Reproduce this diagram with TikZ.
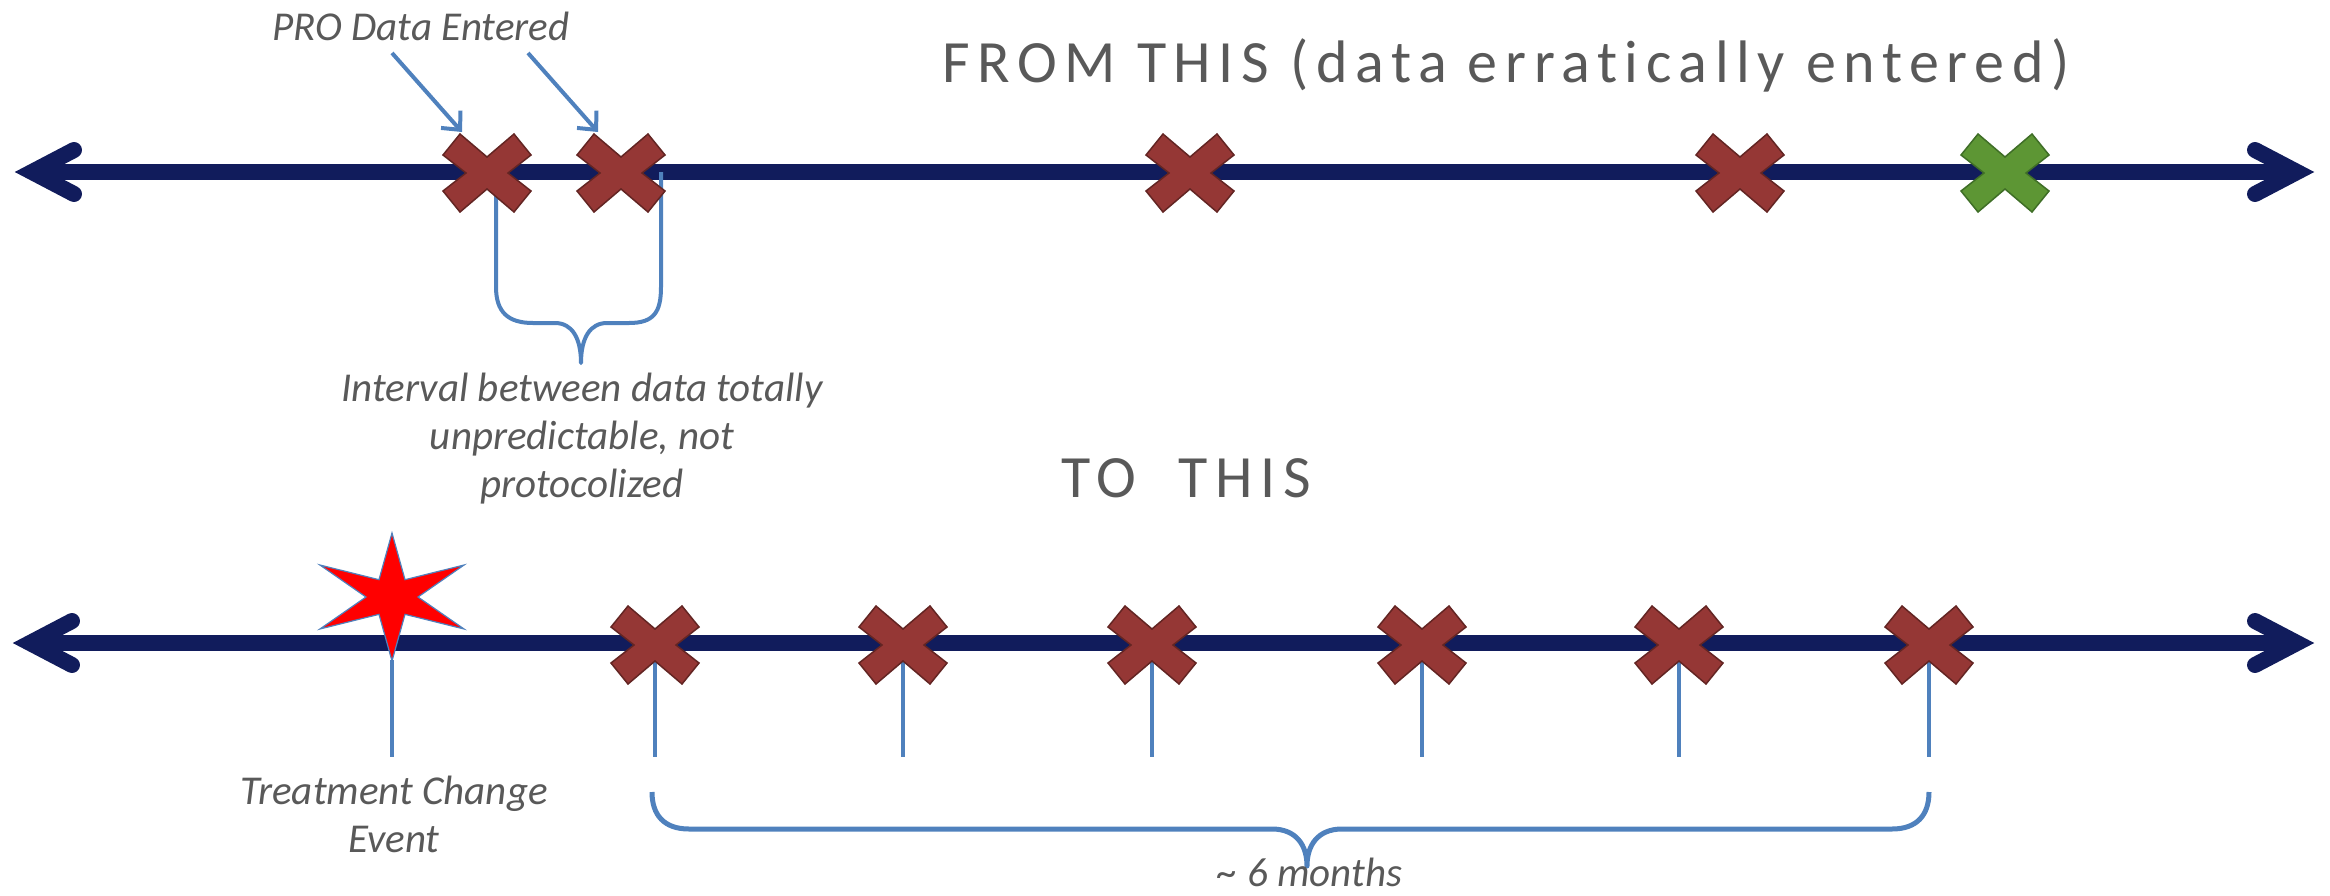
\documentclass[tikz,border=0pt]{standalone}
\usepackage{fontspec}
\setmainfont{Carlito}
\newfontfamily\titlefont[LetterSpace=12.7,Ligatures=NoCommon]{Carlito}
\usetikzlibrary{arrows.meta,calc}
\definecolor{navy}{HTML}{111C5C}
\definecolor{crossred}{HTML}{953735}
\definecolor{crossredd}{HTML}{632523}
\definecolor{crossgreen}{HTML}{5D9634}
\definecolor{crossgreend}{HTML}{3F6E27}
\definecolor{linkblue}{HTML}{4F81BD}
\definecolor{textgray}{HTML}{595959}
\tikzset{
  xcross/.pic={\path[pic actions] (-27,-39) -- (0,-16) -- (27,-39) -- (44,-18) -- (21,0) -- (44,18) -- (27,39) -- (0,16) -- (-27,39) -- (-44,18) -- (-21,0) -- (-44,-18) -- cycle;},
  redx/.style={fill=crossred, draw=crossredd, line width=1.5pt, line join=miter},
  greenx/.style={fill=crossgreen, draw=crossgreend, line width=1.5pt, line join=miter},
  axisline/.style={draw=navy, line width=16pt},
  axishead/.style={draw=navy, line width=16pt, line cap=round, line join=miter},
  bluel/.style={draw=linkblue, line width=4pt},
  bluearrow/.style={draw=linkblue, line width=4pt, -{Straight Barb[length=14pt,width=26pt,line width=4pt]}},
  label/.style={text=textgray, font=\fontsize{41}{48}\selectfont\itshape, inner sep=0pt, align=center},
  title/.style={text=textgray, font=\fontsize{60}{72}\selectfont\titlefont, inner sep=0pt},
}
\begin{document}
\begin{tikzpicture}[x=1pt,y=-1pt]
\useasboundingbox (0,0) rectangle (2330,895);

% ---------- top time line ----------
\coordinate (Lt) at (14,172);
\coordinate (Rt) at (2315,172);
\draw[axisline] ($(Lt)+(18,0)$) -- ($(Rt)+(-18,0)$);
\draw[axishead] ($(Lt)+(60,-22)$) -- ($(Lt)+(18,0)$) -- ($(Lt)+(60,22)$);
\draw[axishead] ($(Rt)+(-60,-22)$) -- ($(Rt)+(-18,0)$) -- ($(Rt)+(-60,22)$);

\coordinate (t1) at (487,173);
\coordinate (t2) at (621,173);
\coordinate (t3) at (1190,173);
\coordinate (t4) at (1740,173);
\coordinate (t5) at (2005,173);

% brace under first two crosses
\coordinate (bl) at (496,172);
\coordinate (br) at (661,172);
\coordinate (btip) at (581,363);
\draw[bluel, line join=round] (bl) -- (496,287) .. controls (496,312) and (508,323) .. (533,323) -- (555,323)
  .. controls (572,323) and (581,338) .. (btip)
  .. controls (581,338) and (590,323) .. (607,323) -- (629,323)
  .. controls (654,323) and (661,312) .. (661,287) -- (br);

\pic[redx] at (t1) {xcross};
\pic[redx] at (t2) {xcross};
\pic[redx] at (t3) {xcross};
\pic[redx] at (t4) {xcross};
\pic[greenx] at (t5) {xcross};

% labels top
\node[label, anchor=base] (pro) at (421,40) {PRO Data Entered};
\coordinate (a1s) at (392,53);
\coordinate (a1e) at (462,132);
\coordinate (a2s) at (528,53);
\coordinate (a2e) at (598,132);
\draw[bluearrow] (a1s) -- (a1e);
\draw[bluearrow] (a2s) -- (a2e);

\node[title, anchor=base] (from) at (1506,82) {FROM THIS (data erratically entered)};

\node[label, anchor=base] (interval) at (582,497) {Interval between data totally\\unpredictable, not\\protocolized};

\node[title, anchor=base] (to) at (1186,497) {TO~~THIS};

% ---------- bottom time line ----------
\coordinate (Lb) at (12,643);
\coordinate (Rb) at (2315,643);
\draw[axisline] ($(Lb)+(18,0)$) -- ($(Rb)+(-18,0)$);
\draw[axishead] ($(Lb)+(60,-22)$) -- ($(Lb)+(18,0)$) -- ($(Lb)+(60,22)$);
\draw[axishead] ($(Rb)+(-60,-22)$) -- ($(Rb)+(-18,0)$) -- ($(Rb)+(-60,22)$);

\coordinate (star) at (392,597);
\coordinate (s0) at (392,660);
\coordinate (s0e) at (392,757);
\draw[bluel] (s0) -- (s0e);

\foreach \i/\x in {1/655,2/903,3/1152,4/1422,5/1679,6/1929}{
  \coordinate (c\i) at (\x,645);
  \coordinate (c\i e) at (\x,757);
  \draw[bluel] (c\i) -- (c\i e);
}

\filldraw[fill=red, draw=linkblue, line width=1.2pt, shift={(star)}, xscale=1.3]
  (90:64) -- (60:20) -- (30:64) -- (0:20) -- (-30:64) -- (-60:20) -- (-90:64) -- (-120:20) -- (-150:64) -- (180:20) -- (150:64) -- (120:20) -- cycle;

\foreach \i in {1,...,6}{
  \pic[redx] at (c\i) {xcross};
}

% six-month brace
\coordinate (ml) at (652,792);
\coordinate (mr) at (1929,792);
\coordinate (mtip) at (1307,866);
\draw[bluel, line width=5pt, line join=round] (ml) .. controls (652,815) and (664,829) .. (689,829) -- (1272,829)
  .. controls (1296,829) and (1307,845) .. (mtip)
  .. controls (1307,845) and (1318,829) .. (1342,829) -- (1892,829)
  .. controls (1917,829) and (1929,815) .. (mr);

\node[label, anchor=base] (treat) at (394,852) {Treatment Change\\Event};
\node[label, anchor=base] (months) at (1310,886) {\~{} 6 months};
\end{tikzpicture}
\end{document}
